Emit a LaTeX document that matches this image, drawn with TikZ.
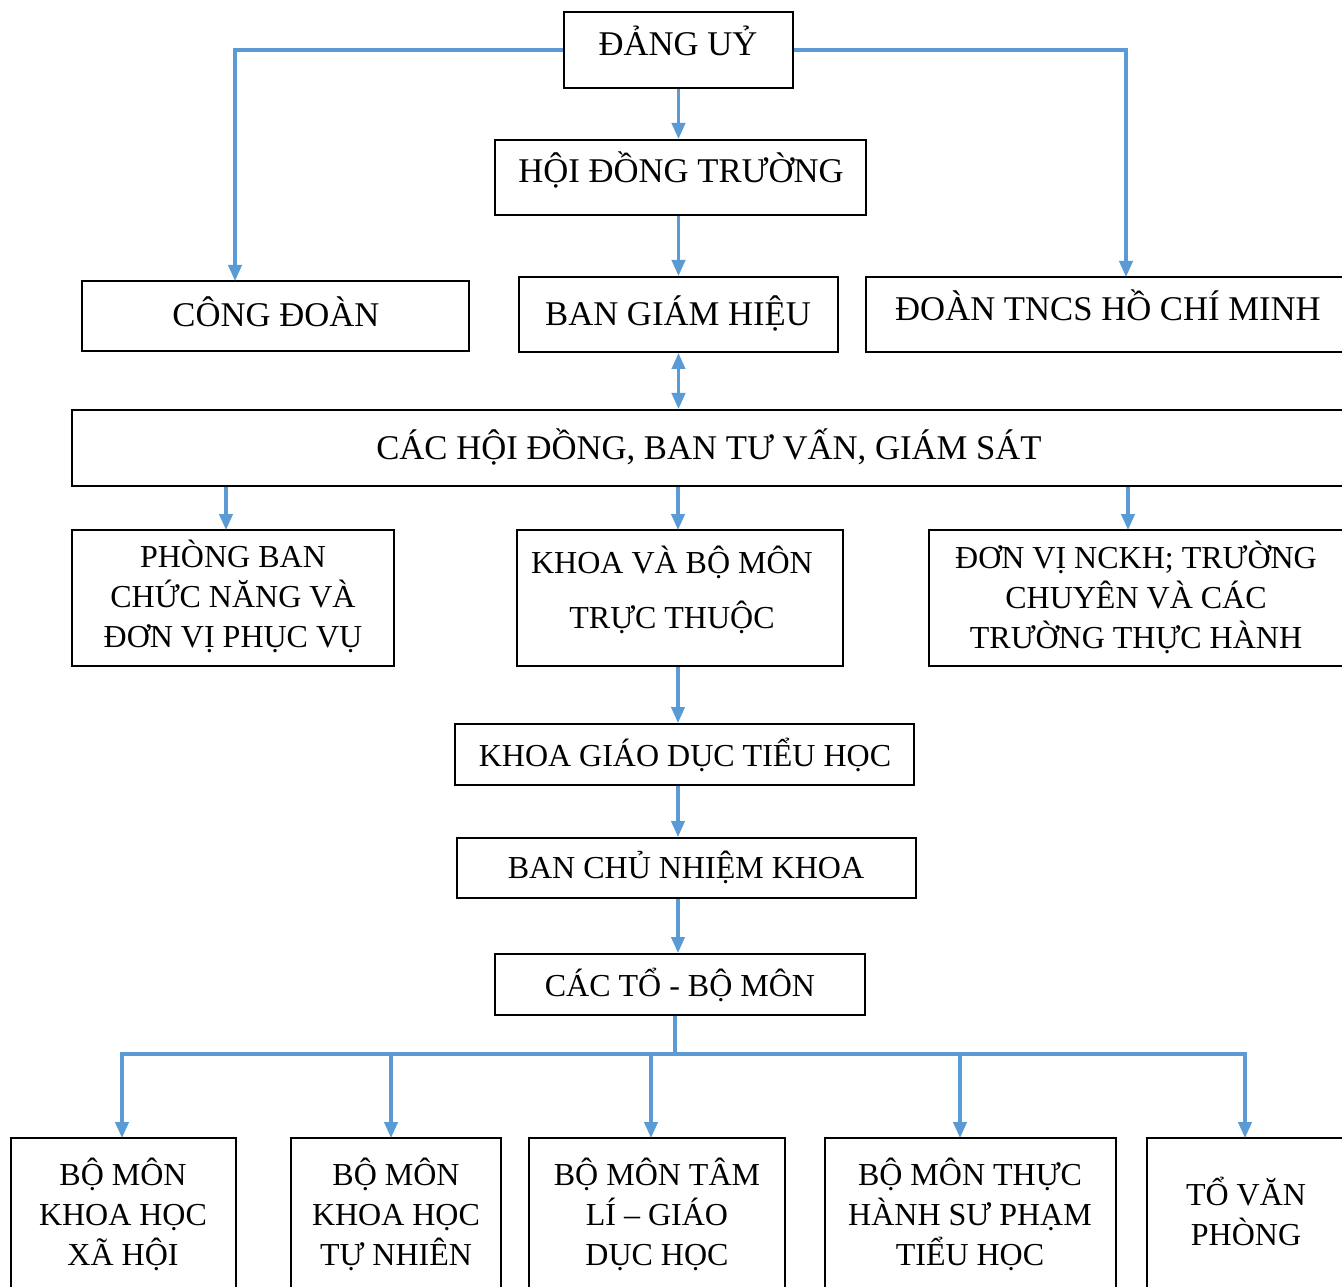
\documentclass[tikz,border=0pt]{standalone}
\usepackage{fontspec}
\setmainfont{Liberation Serif}
\usetikzlibrary{arrows.meta,fit}
\definecolor{lineblue}{HTML}{5B9BD5}
\begin{document}
\begin{tikzpicture}[x=0.75pt,y=-0.75pt,
  box/.style={draw=black, line width=1.5pt, rectangle, inner sep=0pt},
  txt/.style={font=\fontsize{26}{30}\selectfont, inner sep=0pt, align=center, anchor=base},
  small/.style={font=\fontsize{24}{30}\selectfont},
  tip/.tip={Triangle[length=12pt,width=10pt]},
  conn/.style={draw=lineblue, line width=2.3pt, -tip},
  both/.style={draw=lineblue, line width=2.3pt, tip-tip},
  plain/.style={draw=lineblue, line width=2.3pt},
]
\useasboundingbox (0,0) rectangle (1342,1287);
\clip (0,0) rectangle (1342,1287);
\fill[white] (0,0) rectangle (1342,1287);

% boxes
\node[box, fit={(564,12) (793,88)}] (dang) {};
\node[box, fit={(495,140) (866,215)}] (hdt) {};
\node[box, fit={(82,281) (469,351)}] (cd) {};
\node[box, fit={(519,277) (838,352)}] (bgh) {};
\node[box, fit={(866,277) (1352,352)}] (doan) {};
\node[box, fit={(72,410) (1352,486)}] (hd) {};
\node[box, fit={(72,530) (394,666)}] (pb) {};
\node[box, fit={(517,530) (843,666)}] (khoa) {};
\node[box, fit={(929,530) (1352,666)}] (dv) {};
\node[box, fit={(455,724) (914,785)}] (kgd) {};
\node[box, fit={(457,838) (916,898)}] (bcn) {};
\node[box, fit={(495,954) (865,1015)}] (cacto) {};
\node[box, fit={(11,1138) (236,1300)}] (b1) {};
\node[box, fit={(291,1138) (501,1300)}] (b2) {};
\node[box, fit={(529,1138) (785,1300)}] (b3) {};
\node[box, fit={(825,1138) (1116,1300)}] (b4) {};
\node[box, fit={(1147,1138) (1352,1300)}] (b5) {};

% texts (anchor base = baseline of the last line)
\node[txt] (tdang) at (678,56) {ĐẢNG UỶ};
\node[txt] (thdt) at (681,183) {HỘI ĐỒNG TRƯỜNG};
\node[txt] (tcd) at (276,327) {CÔNG ĐOÀN};
\node[txt] (tbgh) at (678,326) {BAN GIÁM HIỆU};
\node[txt] (tdoan) at (1108,321) {ĐOÀN TNCS HỒ CHÍ MINH};
\node[txt] (thd) at (709,459) {CÁC HỘI ĐỒNG, BAN TƯ VẤN, GIÁM SÁT};
\node[txt, small] (tpb) at (233,647) {PHÒNG BAN\\CHỨC NĂNG VÀ\\ĐƠN VỊ PHỤC VỤ};
\node[txt, font=\fontsize{24}{41}\selectfont] (tkhoa) at (672,628) {KHOA VÀ BỘ MÔN\\TRỰC THUỘC};
\node[txt, small] (tdv) at (1136,648) {ĐƠN VỊ NCKH; TRƯỜNG\\CHUYÊN VÀ CÁC\\TRƯỜNG THỰC HÀNH};
\node[txt, small] (tkgd) at (685,766) {KHOA GIÁO DỤC TIỂU HỌC};
\node[txt, small] (tbcn) at (686,878) {BAN CHỦ NHIỆM KHOA};
\node[txt, small] (tcacto) at (680,996) {CÁC TỔ - BỘ MÔN};
\node[txt, small] (tb1) at (123,1265) {BỘ MÔN\\KHOA HỌC\\XÃ HỘI};
\node[txt, small] (tb2) at (396,1265) {BỘ MÔN\\KHOA HỌC\\TỰ NHIÊN};
\node[txt, small] (tb3) at (657,1265) {BỘ MÔN TÂM\\LÍ – GIÁO\\DỤC HỌC};
\node[txt, small] (tb4) at (970,1265) {BỘ MÔN THỰC\\HÀNH SƯ PHẠM\\TIỂU HỌC};
\node[txt, small] (tb5) at (1246,1245) {TỔ VĂN\\PHÒNG};

% entry points
\coordinate (cdin) at (235,281);
\coordinate (doanin) at (1126,277);
\coordinate (pbin) at (226,530);
\coordinate (khoain) at (678,530);
\coordinate (dvin) at (1128,530);
\coordinate (bus) at (675,1054);
\coordinate (b1in) at (122,1138);
\coordinate (b2in) at (391,1138);
\coordinate (b3in) at (651,1138);
\coordinate (b4in) at (960,1138);
\coordinate (b5in) at (1245,1138);

% connectors
\draw[conn] (dang.west) -| (cdin);
\draw[conn] (dang.east) -| (doanin);
\draw[conn] (dang.south) -- (dang.south |- hdt.north);
\draw[conn] (bgh.north |- hdt.south) -- (bgh.north);
\draw[both] (bgh.south) -- (bgh.south |- hd.north);
\draw[conn] (hd.south -| pbin) -- (pbin);
\draw[conn] (hd.south -| khoain) -- (khoain);
\draw[conn] (hd.south -| dvin) -- (dvin);
\draw[conn] (khoa.south -| khoain) -- (kgd.north -| khoain);
\draw[conn] (kgd.south -| khoain) -- (bcn.north -| khoain);
\draw[conn] (bcn.south -| khoain) -- (cacto.north -| khoain);
\draw[plain] (cacto.south -| bus) -- (bus);
\draw[conn] (bus) -| (b1in);
\draw[conn] (bus) -| (b5in);
\draw[conn] (bus -| b2in) -- (b2in);
\draw[conn] (bus -| b3in) -- (b3in);
\draw[conn] (bus -| b4in) -- (b4in);
\end{tikzpicture}
\end{document}
